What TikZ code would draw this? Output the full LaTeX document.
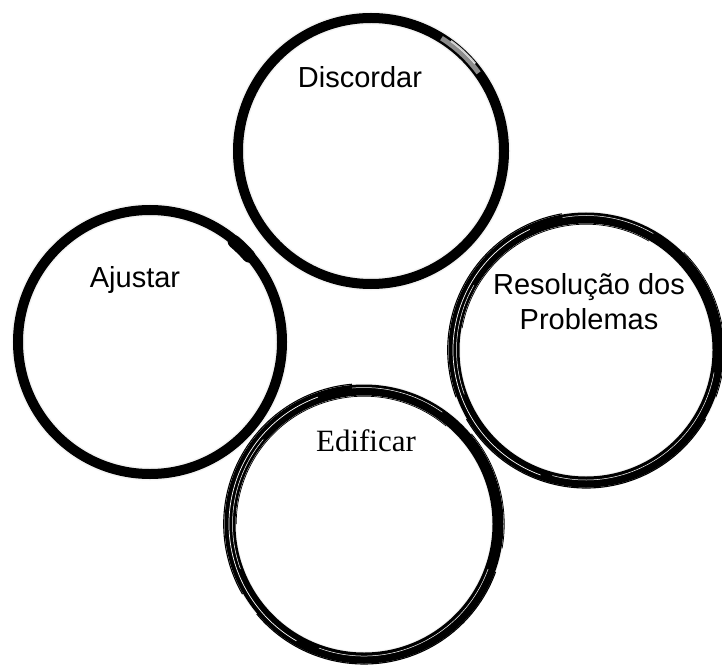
\documentclass[tikz,border=0pt]{standalone}
\usepackage{fontspec}
\setmainfont{Liberation Sans}
\newfontfamily\serifface{Liberation Serif}
\begin{document}
\begin{tikzpicture}[x=1pt,y=-1pt,
  ring/.style={circle, draw=black, line width=10pt, inner sep=0pt, outer sep=0pt, minimum size=#1},
  halo/.style={draw=black!12, line width=13pt, opacity=0.4},
  bristle/.style={draw=black, line width=1.1pt},
  streak/.style={draw=white, line width=0.7pt},
  lab/.style={font=\fontsize{29}{35}\selectfont, align=center, inner sep=0pt}]
\useasboundingbox (0,0) rectangle (722,668);
% halos
\draw[halo] (371,151) circle (133);
\draw[halo] (150,342) circle (132);
\draw[halo] (586,350) circle (132);
\draw[halo] (364,524) circle (134);
% rings
\node[ring=266pt] (c1) at (371,151) {};
\node[ring=264pt] (c2) at (150,342) {};
\node[ring=264pt, line width=11pt] (c3) at (586,350) {};
\node[ring=268pt, line width=11pt] (c4) at (364,524) {};
% circle 1: faded stroke at upper right
\draw[white, line width=5pt, opacity=0.55] (c1.center) ++(-36:133) arc (-36:-58:133);
\draw[white, line width=2pt, opacity=0.8] (c1.center) ++(-40:136) arc (-40:-54:136);
% circle 2: thick blob at upper right
\draw[black, line width=13pt, line cap=round] (c2.center) ++(-41:131) arc (-41:-50:131);
% circle 3 brush texture
\draw[bristle] (c3.center) ++(-100:138.3) arc (-100:-200:138.3);
\draw[bristle] (c3.center) ++(-210:138) arc (-210:-330:138);
\draw[bristle, line width=0.8pt] (c3.center) ++(20:138.2) arc (20:-45:138.2);
\draw[bristle, line width=0.7pt] (c3.center) ++(-60:125.8) arc (-60:-170:125.8);
\draw[streak] (c3.center) ++(-115:133) arc (-115:-250:133);
\draw[streak, line width=0.5pt] (c3.center) ++(-255:130) arc (-255:-350:130);
\draw[streak, line width=0.5pt] (c3.center) ++(-60:134.5) arc (-60:-100:134.5);
\draw[streak, line width=0.5pt] (c3.center) ++(-150:129.5) arc (-150:-200:129.5);
% circle 4 brush texture
\draw[bristle] (c4.center) ++(-95:140.3) arc (-95:-210:140.3);
\draw[bristle] (c4.center) ++(-220:140) arc (-220:-340:140);
\draw[bristle, line width=0.8pt] (c4.center) ++(10:140.2) arc (10:-40:140.2);
\draw[bristle, line width=0.7pt] (c4.center) ++(-50:127.8) arc (-50:-180:127.8);
\draw[streak] (c4.center) ++(-110:135) arc (-110:-240:135);
\draw[streak, line width=0.5pt] (c4.center) ++(-250:132) arc (-250:-340:132);
\draw[streak, line width=0.5pt] (c4.center) ++(-55:136.5) arc (-55:-95:136.5);
\draw[streak, line width=0.5pt] (c4.center) ++(-140:131.5) arc (-140:-200:131.5);
% labels
\node[lab] (t1) at (360,77) {Discordar};
\node[lab] (t2) at (135,280) {Ajustar};
\node[lab] (t3) at (589,302) {Resolução dos\\Problemas};
\node[lab, font=\serifface\fontsize{31}{36}\selectfont] (t4) at (366,441) {Edificar};
\end{tikzpicture}
\end{document}
